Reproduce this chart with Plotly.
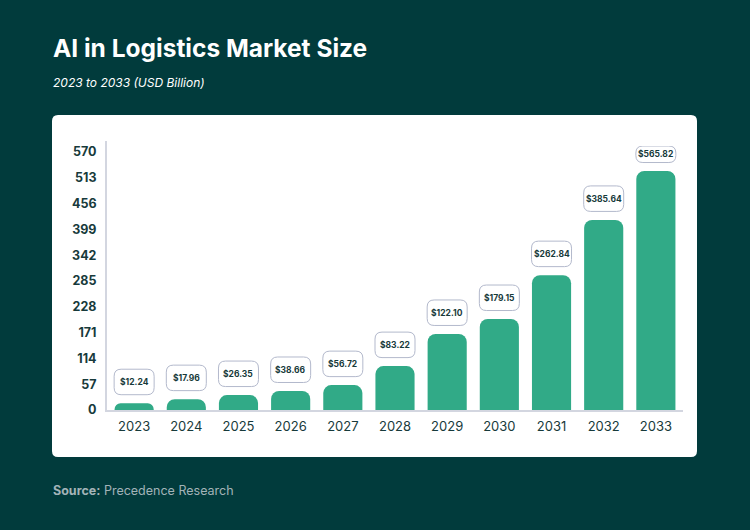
import plotly.graph_objects as go

years = ["2023", "2024", "2025", "2026", "2027", "2028", "2029", "2030", "2031", "2032", "2033"]
label_values = [12.24, 17.96, 26.35, 38.66, 56.72, 83.22, 122.10, 179.15, 262.84, 385.64, 565.82]
bar_heights = [15, 24, 33, 42, 55, 97, 168, 201, 298, 420, 528]
y_ticks = [0, 57, 114, 171, 228, 285, 342, 399, 456, 513, 570]

BG = "#013B3C"
BAR = "#31AA87"
DARK = "#173A3B"
FONT = "Inter"

W, H = 750, 530
L, R, T, B = 107, 67, 146, 120
PW, PH = W - L - R, H - T - B
Y_MAX = 583.3

def px_x(px):
    return (px - L) / PW

def px_y(py):
    return (H - B - py) / PH

def rrect(x0, y0, x1, y1, r):
    # rounded rectangle path in pixel offsets (y up)
    r = min(r, (y1 - y0) / 2, (x1 - x0) / 2)
    return (f"M{x0+r},{y0} L{x1-r},{y0} Q{x1},{y0} {x1},{y0+r} "
            f"L{x1},{y1-r} Q{x1},{y1} {x1-r},{y1} L{x0+r},{y1} "
            f"Q{x0},{y1} {x0},{y1-r} L{x0},{y0+r} Q{x0},{y0} {x0+r},{y0} Z")

xs = list(range(len(years)))

fig = go.Figure()
fig.add_trace(go.Bar(
    x=xs, y=bar_heights, marker=dict(color=BAR, cornerradius=8, line=dict(width=0)),
    width=0.75, hoverinfo="skip", showlegend=False,
))

shapes = []
# white card (pixel offsets from paper origin = bottom-left of plot area)
shapes.append(dict(
    type="path", xref="paper", yref="paper", xsizemode="pixel", ysizemode="pixel",
    xanchor=0, yanchor=0, layer="below",
    path=rrect(52 - L, (H - B) - 457, 697 - L, (H - B) - 115, 6),
    fillcolor="white", line=dict(width=0),
))
# small extension of the y-axis line above the plot area
shapes.append(dict(
    type="line", xref="paper", yref="paper", xsizemode="pixel", ysizemode="pixel",
    xanchor=0, yanchor=1, x0=-1, x1=-1, y0=-1, y1=5, layer="above",
    line=dict(color="#D3D6E0", width=2),
))

annotations = []
for i, (h, v) in enumerate(zip(bar_heights, label_values)):
    room = (Y_MAX - h) * PH / Y_MAX  # pixels between bar top and plot top
    y0, y1 = 8.5, min(34, room)
    shapes.append(dict(
        type="path", xref="x", yref="y", xsizemode="pixel", ysizemode="pixel",
        xanchor=i, yanchor=h, layer="above",
        path=rrect(-20, y0, 20, y1, 7),
        fillcolor="white", line=dict(color="#B3B9CC", width=1),
    ))
    annotations.append(dict(
        x=i, y=h, xref="x", yref="y", text=f"<b>${v:.2f}</b>", showarrow=False,
        yshift=(y0 + y1) / 2, font=dict(family=FONT, size=8.5, color=DARK),
    ))

annotations += [
    dict(x=px_x(51), y=px_y(48), xref="paper", yref="paper", xanchor="left", yanchor="middle",
         text="<b>AI in Logistics Market Size</b>", showarrow=False,
         font=dict(family=FONT, size=24.5, color="white")),
    dict(x=px_x(51), y=px_y(82), xref="paper", yref="paper", xanchor="left", yanchor="middle",
         text="<i>2023 to 2033 (USD Billion)</i>", showarrow=False,
         font=dict(family=FONT, size=12, color="white")),
    dict(x=px_x(51), y=px_y(490), xref="paper", yref="paper", xanchor="left", yanchor="middle",
         text="<b>Source:</b> Precedence Research", showarrow=False,
         font=dict(family=FONT, size=12.5, color="#A3B3B8")),
]

fig.update_layout(
    width=W, height=H, margin=dict(l=L, r=R, t=T, b=B, pad=0),
    paper_bgcolor=BG, plot_bgcolor="rgba(0,0,0,0)",
    shapes=shapes, annotations=annotations, bargap=0.25,
    font=dict(family=FONT, color=DARK),
)
fig.update_xaxes(
    range=[-0.52, 10.52], tickvals=xs, ticktext=years, showgrid=False, zeroline=False,
    showline=True, linecolor="#D3D6E0", linewidth=2, ticks="", ticklabelstandoff=3,
    tickfont=dict(family=FONT, size=13, color=DARK), fixedrange=True,
)
fig.update_yaxes(
    range=[0, Y_MAX], tickvals=y_ticks, ticktext=[f"<b>{t}</b>" for t in y_ticks],
    showgrid=False, zeroline=False, showline=True, linecolor="#D3D6E0", linewidth=2,
    ticks="", ticklabelstandoff=6, tickfont=dict(family=FONT, size=12.5, color=DARK),
    fixedrange=True,
)

fig.write_html("out.html", config={"displayModeBar": False},
               post_script="document.body.style.margin='0';document.body.style.padding='0';")
